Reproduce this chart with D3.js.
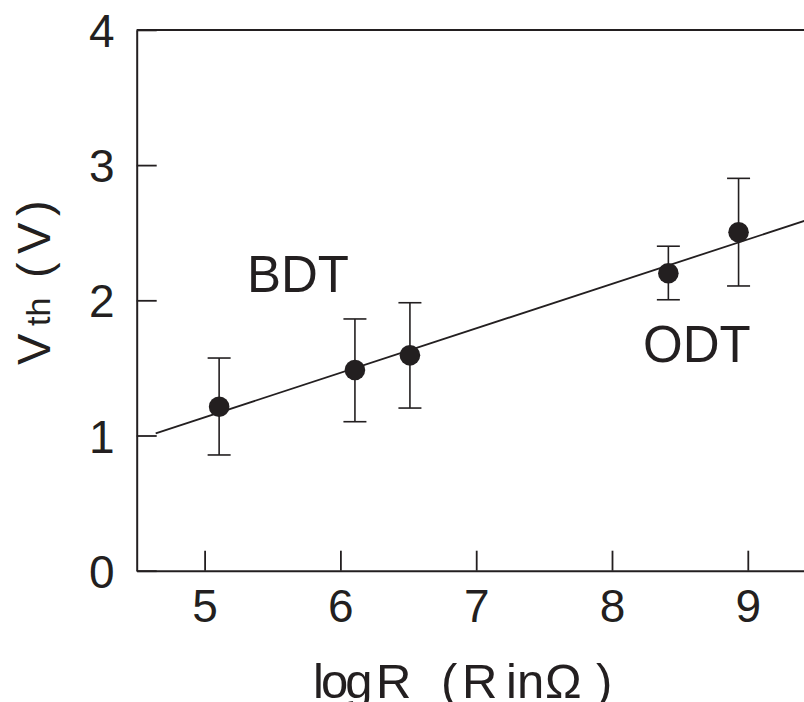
<!DOCTYPE html>
<html><head><meta charset="utf-8">
<script src="https://cdn.jsdelivr.net/npm/d3@7"></script>
<style>
html,body{margin:0;padding:0;background:#fff;}
svg{display:block;}
text{font-family:"Liberation Sans",Arial,Helvetica,sans-serif;fill:#231f20;}
</style></head>
<body>
<svg id="chart" width="804" height="702"></svg>
<script>
// Data
const logR     = [5.107, 6.107, 6.512, 8.415, 8.932];
const vth      = [1.213, 1.484, 1.593, 2.200, 2.503];
const errLow   = [0.856, 1.102, 1.203, 2.004, 2.106];
const errHigh  = [1.573, 1.862, 1.982, 2.400, 2.902];
const fitX     = [4.64, 9.5];
const fitY     = [1.016, 2.615];
const xTicks   = [5, 6, 7, 8, 9];
const yTicks   = [0, 1, 2, 3, 4];
const groupLabels = ["BDT", "ODT"];

const ink = "#231f20";
const svg = d3.select("#chart");
const x = d3.scaleLinear().domain([4.5, 9.5]).range([136.7, 815.7]);
const y = d3.scaleLinear().domain([0, 4]).range([570.7, 29.9]);

// top frame line
svg.append("line")
  .attr("x1", x(4.5)).attr("x2", x(9.5))
  .attr("y1", y(4)).attr("y2", y(4))
  .attr("stroke", ink).attr("stroke-width", 2);

// bottom axis
const gx = svg.append("g").attr("transform", `translate(0,${y(0)})`)
  .call(d3.axisBottom(x).tickValues(xTicks).tickSize(-20).tickSizeOuter(0).tickPadding(0).tickFormat(d3.format("d")));
gx.select(".domain").attr("stroke", ink).attr("stroke-width", 2);
gx.selectAll(".tick line").attr("stroke", ink).attr("stroke-width", 1.8);
gx.selectAll(".tick text").attr("y", 51).attr("dy", null).style("font-size", "46px").attr("fill", ink);

// left axis
const gy = svg.append("g").attr("transform", `translate(${x(4.5)},0)`)
  .call(d3.axisLeft(y).tickValues(yTicks).tickSize(-20).tickSizeOuter(0).tickPadding(22).tickFormat(d3.format("d")));
gy.select(".domain").attr("stroke", ink).attr("stroke-width", 2);
gy.selectAll(".tick line").attr("stroke", ink).attr("stroke-width", 1.8);
gy.selectAll(".tick text").attr("dy", "0.36em").style("font-size", "46px").attr("fill", ink);

// fit line
svg.append("path")
  .datum(fitX.map((d, i) => [d, fitY[i]]))
  .attr("d", d3.line().x(d => x(d[0])).y(d => y(d[1])))
  .attr("fill", "none").attr("stroke", ink).attr("stroke-width", 1.8);

// error bars
const pts = logR.map((d, i) => ({x: d, y: vth[i], lo: errLow[i], hi: errHigh[i]}));
const eb = svg.append("g").attr("stroke", ink).attr("stroke-width", 1.6);
eb.selectAll(".v").data(pts).join("line")
  .attr("x1", d => x(d.x)).attr("x2", d => x(d.x))
  .attr("y1", d => y(d.lo)).attr("y2", d => y(d.hi));
eb.selectAll(".t").data(pts).join("line")
  .attr("x1", d => x(d.x) - 11.5).attr("x2", d => x(d.x) + 11.5)
  .attr("y1", d => y(d.hi)).attr("y2", d => y(d.hi));
eb.selectAll(".b").data(pts).join("line")
  .attr("x1", d => x(d.x) - 11.5).attr("x2", d => x(d.x) + 11.5)
  .attr("y1", d => y(d.lo)).attr("y2", d => y(d.lo));

// points
svg.append("g").selectAll("circle").data(pts).join("circle")
  .attr("cx", d => x(d.x)).attr("cy", d => y(d.y)).attr("r", 10.3)
  .attr("fill", ink);

// group labels
svg.append("text").attr("x", 247).attr("y", 292).style("font-size", "51px").text(groupLabels[0]);
svg.append("text").attr("x", 643).attr("y", 362).style("font-size", "51px").text(groupLabels[1]);

// x axis title
const xt = svg.append("text").attr("y", 698).style("font-size", "49px");
xt.append("tspan").attr("x", 313).style("letter-spacing", "-3px").text("log");
xt.append("tspan").attr("x", 376).text("R");
xt.append("tspan").attr("x", 441).text("(");
xt.append("tspan").attr("x", 462).text("R");
xt.append("tspan").attr("x", 506).text("in");
xt.append("tspan").attr("x", 545).text("Ω");
xt.append("tspan").attr("x", 596).text(")");

// y axis title (rotated)
const yt = svg.append("text").attr("transform", "rotate(-90)").attr("y", 50);
yt.append("tspan").attr("x", -365).style("font-size", "47px").text("V");
yt.append("tspan").attr("x", -326).style("font-size", "34px").text("th");
yt.append("tspan").attr("x", -278).style("font-size", "47px").text("(");
yt.append("tspan").attr("x", -254).style("font-size", "47px").text("V");
yt.append("tspan").attr("x", -216).style("font-size", "47px").text(")");
</script>
</body></html>
